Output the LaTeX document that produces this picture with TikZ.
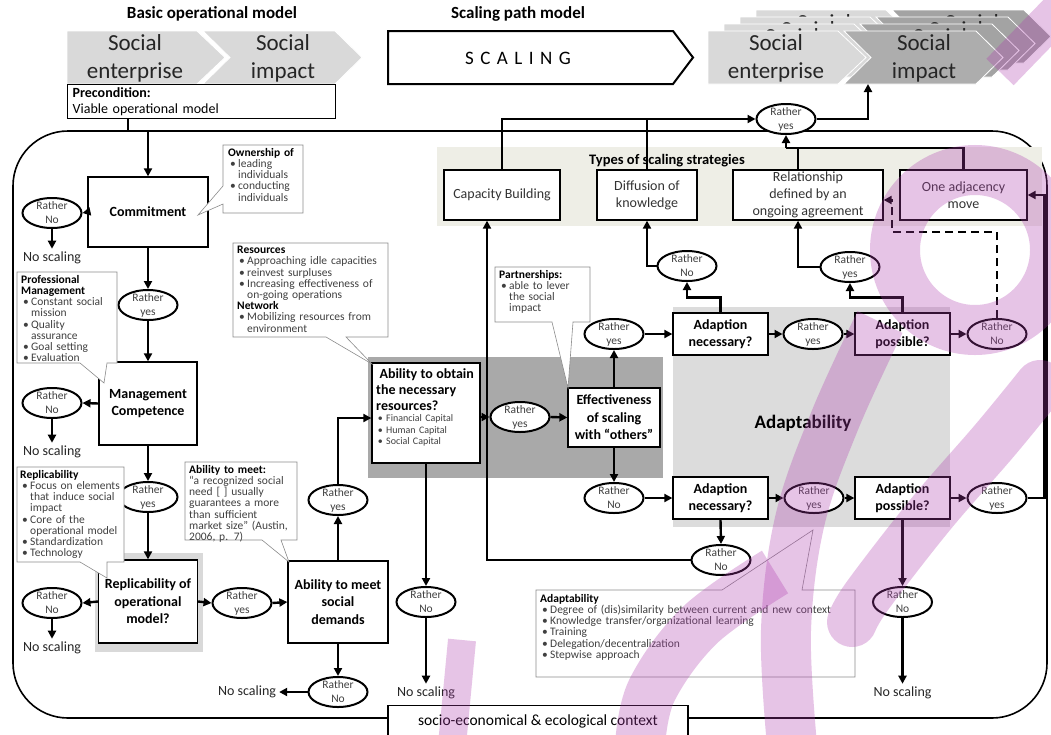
\documentclass[tikz,border=0pt]{standalone}
\usepackage{fontspec}
\setmainfont{Carlito}
\usetikzlibrary{arrows.meta,shapes.geometric}

\definecolor{chlight}{HTML}{D9D9D9}
\definecolor{chdark}{HTML}{ADADAD}
\definecolor{chdarkb}{HTML}{A3A3A3}
\definecolor{bandgray}{HTML}{A9A9A9}
\definecolor{adaptgray}{HTML}{DCDCDC}
\definecolor{stratbg}{HTML}{EEEEE6}
\definecolor{calltext}{HTML}{404040}
\definecolor{wmark}{RGB}{175,60,175}

\newcommand\fsz[2]{\fontsize{#1}{#2}\selectfont}
\newcommand\scalegap{\hspace{6.5pt}}
\newcommand\callbul[1]{\par\hangindent=10pt\hangafter=1\noindent\makebox[10pt][l]{\,\textbullet}#1}
\newcommand\callhead[1]{{\color{black}\bfseries #1}}

% a pair of process chevrons (enterprise -> impact)
\newcommand\chevpair[4]{%
  \begin{scope}[shift={(#2,#3)}]
    \filldraw[fill=chlight, draw=white, line width=0.8pt]
      (0,0) -- (130,0) -- (158,26.5) -- (130,53) -- (0,53) -- cycle;
    \filldraw[fill=#4, draw=white, line width=0.8pt]
      (136,0) -- (268,0) -- (295,26.5) -- (268,53) -- (136,53) -- (163,26.5) -- cycle;
    \node[chevtext] (#1se) at (68,27) {Social\\enterprise};
    \node[chevtext] (#1si) at (216,27) {Social\\impact};
  \end{scope}}

% a stacked copy behind the front pair: only its upper word peeks out
\newcommand\chevback[3]{%
  \begin{scope}[shift={(#2,#3)}]
    \filldraw[fill=chlight, draw=white, line width=0.8pt]
      (0,0) -- (130,0) -- (158,26.5) -- (130,53) -- (0,53) -- cycle;
    \filldraw[fill=chdarkb, draw=white, line width=0.8pt]
      (136,0) -- (268,0) -- (295,26.5) -- (268,53) -- (136,53) -- (163,26.5) -- cycle;
    \node[chevtext] (#1se) at (68,13) {Social};
    \node[chevtext] (#1si) at (216,13) {Social};
  \end{scope}}

% yes/no decision ellipse with its caption
\newcommand\decnode[4]{%
  \node[decision] (#1) at (#2,#3) {};
  \node[elltext] (#1t) at (#1) {Rather\\#4};}

\begin{document}
\begin{tikzpicture}[x=1pt,y=-1pt,
  chevtext/.style={align=center, font=\fsz{23}{28}, text=black!85, inner sep=0pt},
  flowbox/.style={draw, line width=1.3pt, fill=white, align=center, font=\bfseries\fsz{14}{17.5}, inner sep=0pt},
  stratbox/.style={draw, line width=1.3pt, fill=white, align=center, font=\fsz{14}{17}, text=black!80, inner sep=0pt},
  decision/.style={ellipse, draw, line width=2pt, fill=white, minimum width=59pt, minimum height=30pt, inner sep=0pt},
  elltext/.style={align=center, font=\fsz{11.5}{14}, text=calltext, inner sep=0pt},
  conn/.style={line width=2.4pt, -{Triangle[length=8pt,width=8pt]}},
  plainline/.style={line width=2.4pt},
  noscale/.style={font=\fsz{14}{16}, text=black!85, inner sep=3pt},
  callout/.style={fill=white, draw=black!45, line width=0.6pt},
  calltxt/.style={align=left, text width=#1, font=\fsz{11.5}{11.2}, text=calltext, inner sep=0pt, anchor=north west},
  wm/.style={draw=wmark, draw opacity=0.3, line width=50pt}]

\useasboundingbox (0,0) rectangle (1051,734);
\fill[white] (0,0) rectangle (1051,734);

% context frame
\draw[line width=1.6pt, rounded corners=55pt] (13,131) rectangle (1047,718);

% background bands
\fill[stratbg] (437,147) rectangle (1042,226);
\fill[bandgray] (368,357) rectangle (663,478);
\fill[adaptgray] (673,307) rectangle (950,527);
\fill[chlight] (95,553) rectangle (203,652);

% headings
\node[font=\bfseries\fsz{17}{20}] (t1) at (212,14) {Basic operational model};
\node[font=\bfseries\fsz{17}{20}] (t2) at (518,14) {Scaling path model};

% basic operational model
\chevpair{L}{67}{31}{chlight}
\node[draw, line width=1.3pt, fill=white, anchor=north west, minimum width=268pt,
      minimum height=34pt, text width=258pt, align=left, inner xsep=5pt, inner ysep=1pt,
      font=\fsz{14}{16.5}] (pre) at (67,84) {\textbf{Precondition:}\\Viable operational model};

% scaling arrow
\filldraw[fill=white, draw=black, line width=2pt]
  (388,31) -- (673,31) -- (693,57.5) -- (673,84) -- (388,84) -- cycle;
\node[font=\fsz{19}{22}] (scal) at (518,58) {S\scalegap C\scalegap A\scalegap L\scalegap I\scalegap N\scalegap G};

% replicated operational models
\chevback{Rc}{756}{10}
\chevback{Rb}{740}{17}
\chevback{Ra}{724}{24}
\chevpair{R}{708}{31}{chdark}

% strategy band
\node[font=\bfseries\fsz{14.5}{17}] (types) at (667,161) {Types of scaling strategies};
\node[stratbox, minimum width=116pt, minimum height=50pt] (cap) at (502,195) {Capacity Building};
\node[stratbox, minimum width=100pt, minimum height=50pt] (diff) at (647,195) {Diffusion of\\knowledge};
\node[stratbox, minimum width=150pt, minimum height=50pt] (rel) at (808,195) {Relationship\\defined by an\\ongoing agreement};
\node[stratbox, minimum width=127pt, minimum height=50pt] (adj) at (963.5,195) {One adjacency\\move};

% process boxes
\node[flowbox, minimum width=120pt, minimum height=70pt] (commit) at (148,212) {Commitment};
\node[flowbox, minimum width=98pt, minimum height=83pt] (mgmt) at (148,403.5) {Management\\Competence};
\node[flowbox, minimum width=99pt, minimum height=83pt] (repl) at (148,601.5) {Replicability of\\operational\\model?};
\node[flowbox, minimum width=100pt, minimum height=82pt] (meet) at (338,602) {Ability to meet\\social\\demands};
\node[flowbox, minimum width=108pt, minimum height=100pt] (obtain) at (426,413) {};
\node[anchor=north west, align=left, text width=104pt, inner sep=0pt] (obtaintxt) at (376,368)
  {{\bfseries\fsz{14}{16} Ability to obtain\\the necessary\\resources?\par}%
   {\fsz{10}{11.5}\color{calltext}\callbul{Financial Capital}\callbul{Human Capital}\callbul{Social Capital}\par}};
\node[flowbox, minimum width=92pt, minimum height=59pt] (effect) at (614,417.5) {Effectiveness\\of scaling\\with “others”};
\node[font=\bfseries\fsz{19}{21}] (adapt) at (803,423) {Adaptability};
\node[flowbox, minimum width=95pt, minimum height=42pt] (an1) at (720.5,334) {Adaption\\necessary?};
\node[flowbox, minimum width=95pt, minimum height=42pt] (ap1) at (902.5,334) {Adaption\\possible?};
\node[flowbox, minimum width=95pt, minimum height=42pt] (an2) at (720.5,498) {Adaption\\necessary?};
\node[flowbox, minimum width=95pt, minimum height=42pt] (ap2) at (902.5,498) {Adaption\\possible?};

% decisions
\decnode{rn1}{52}{213}{No}
\decnode{ry1}{148}{305}{yes}
\decnode{rn2}{52}{403}{No}
\decnode{ry2}{148}{497}{yes}
\decnode{rn3}{52}{603}{No}
\decnode{ry3}{242}{603}{yes}
\decnode{ry4}{338}{500}{yes}
\decnode{rn4}{338}{692}{No}
\decnode{rn5}{426}{602}{No}
\decnode{ry5}{520}{417}{yes}
\decnode{ry6}{614}{334}{yes}
\decnode{rn6}{614}{498}{No}
\decnode{ry7}{813}{334}{yes}
\decnode{rn7}{997}{334}{No}
\decnode{ry8}{814}{498}{yes}
\decnode{ry9}{997}{498}{yes}
\decnode{rn8}{721}{560}{No}
\decnode{rn9}{902.5}{602}{No}
\decnode{rn10}{687}{266}{No}
\decnode{ry10}{850}{267}{yes}
\decnode{ryTop}{786}{119}{yes}

% outcomes
\node[noscale] (ns1) at (52,258) {No scaling};
\node[noscale] (ns2) at (52,452) {No scaling};
\node[noscale] (ns3) at (52,648) {No scaling};
\node[noscale] (ns4) at (247,692) {No scaling};
\node[noscale] (ns5) at (426,693) {No scaling};
\node[noscale] (ns9) at (902.5,693) {No scaling};
\node[draw, line width=1.3pt, fill=white, minimum width=300pt, minimum height=32pt, anchor=north,
      font=\fsz{15.5}{18}] (ctx) at (538,705) {socio-economical \& ecological context};

\coordinate (preout) at (128,118);
\coordinate (impactin) at (868,84);
\coordinate (j1) at (786,148);

% basic path
\draw[conn] (preout) -- ++(0,13) -| (commit.north);
\draw[conn] (commit.west) -- (rn1.east);
\draw[conn] (rn1.south) -- (ns1.north);
\draw[conn] (commit.south) -- (ry1.north);
\draw[conn] (ry1.south) -- (mgmt.north);
\draw[conn] (mgmt.west) -- (rn2.east);
\draw[conn] (rn2.south) -- (ns2.north);
\draw[conn] (mgmt.south) -- (ry2.north);
\draw[conn] (ry2.south) -- (repl.north);
\draw[conn] (repl.west) -- (rn3.east);
\draw[conn] (rn3.south) -- (ns3.north);
\draw[conn] (repl.east) -- (ry3.west);
\draw[conn] (ry3.east) -- (meet.west);
\draw[conn] (meet.north) -- (ry4.south);
\draw[conn] (ry4.north) |- ([yshift=-5pt]obtain.west);
\draw[conn] (meet.south) -- (rn4.north);
\draw[conn] (rn4.west) -- (ns4.east);
\draw[conn] (obtain.south) -- (rn5.north);
\draw[conn] (rn5.south) -- (ns5.north);
\draw[conn] (obtain.east |- ry5.west) -- (ry5.west);
\draw[conn] (ry5.east) -- (effect.west);

% with others
\draw[conn] (effect.north) -- (ry6.south);
\draw[conn] (ry6.east) -- (an1.west);
\draw[conn] (effect.south) -- (rn6.north);
\draw[conn] (rn6.east) -- (an2.west);
\draw[conn] (an1.east) -- (ry7.west);
\draw[conn] (ry7.east) -- (ap1.west);
\draw[conn] (ap1.east) -- (rn7.west);
\draw[conn] (an2.east) -- (ry8.west);
\draw[conn] (ry8.east) -- (ap2.west);
\draw[conn] (ap2.east) -- (ry9.west);
\draw[conn] (an2.south) -- (rn8.north);
\draw[conn] (ap2.south) -- (rn9.north);
\draw[conn] (rn9.south) -- (ns9.north);
\draw[conn] (rn8.west) -| ([xshift=-15pt]cap.south);
\draw[conn] (an1.north) -- ++(0,-15) -| (rn10.south);
\draw[conn] (rn10.west) -| (diff.south);
\draw[conn] (ap1.north) -- ++(0,-15) -| (ry10.south);
\draw[conn] (ry10.west) -| ([xshift=-10pt]rel.south);
\draw[conn] (ry9.east) -- ++(17,0) |- (adj.east);
\draw[conn, dash pattern=on 8pt off 5pt] (rn7.north) |- (892,232) |- ([yshift=-5pt]rel.east);

% strategies lead to replication
\draw[conn] (cap.north) |- (ryTop.west);
\draw[plainline] (diff.north) -- (diff.north |- ryTop.west);
\draw[conn] (ryTop.east) -| (impactin);
\draw[plainline] (adj.north) |- (j1);
\draw[conn] (j1) -- (ryTop.south);
\draw[plainline] ([xshift=-10pt]rel.north) -- ([xshift=-10pt]rel.north |- j1);

% callouts
\filldraw[callout] (223,145) -- (303,145) -- (303,213) -- (223,213) -- (223,204) -- (198,215) -- (223,186) -- cycle;
\node[calltxt=76pt] (co1) at (228,148)
  {\callhead{Ownership of}\callbul{leading\newline individuals}\callbul{conducting\newline individuals}\par};

\filldraw[callout] (17,272) -- (117,272) -- (117,363) -- (107,363) -- (104,383) -- (80,363) -- (17,363) -- cycle;
\node[calltxt=96pt] (co2) at (21,275)
  {\callhead{Professional\newline Management}\callbul{Constant social\newline mission}\callbul{Quality\newline assurance}\callbul{Goal setting}\callbul{Evaluation}\par};

\filldraw[callout] (17,467) -- (124,467) -- (124,562) -- (107,562) -- (107,578) -- (80,562) -- (17,562) -- cycle;
\node[calltxt=104pt] (co3) at (20,470)
  {\callhead{Replicability}\callbul{Focus on elements\newline that induce social\newline impact}\callbul{Core of the\newline operational model}\callbul{Standardization}\callbul{Technology}\par};

\filldraw[callout] (185,462) -- (297,462) -- (297,540) -- (281,540) -- (289,562) -- (262,540) -- (185,540) -- cycle;
\node[calltxt=108pt] (co4) at (189,465)
  {\callhead{Ability to meet:}\par\noindent “a recognized social\newline need [ ] usually\newline guarantees a more\newline than sufficient\newline market size” (Austin,\newline 2006, p. 7)\par};

\filldraw[callout] (233,243) -- (388,243) -- (388,337) -- (346,337) -- (372,364) -- (326,337) -- (233,337) -- cycle;
\node[calltxt=150pt] (co5) at (237,246)
  {\callhead{Resources}\callbul{Approaching idle capacities}\callbul{reinvest surpluses}\callbul{Increasing  effectiveness of\newline on-going operations}\par\noindent\callhead{Network}\callbul{Mobilizing resources from\newline environment}\par};

\filldraw[callout] (495,267) -- (590,267) -- (590,322) -- (573,322) -- (568,388) -- (552,322) -- (495,322) -- cycle;
\node[calltxt=90pt] (co6) at (499,270)
  {\callhead{Partnerships:}\callbul{able to lever\newline the social\newline impact}\par};

\filldraw[callout] (536,590) -- (722,590) -- (813,530) -- (802,590) -- (855,590) -- (855,677) -- (536,677) -- cycle;
\node[calltxt=314pt] (co7) at (540,594)
  {\callhead{Adaptability}\callbul{Degree of (dis)similarity between current and new context}\callbul{Knowledge transfer/organizational learning}\callbul{Training}\callbul{Delegation/decentralization}\callbul{Stepwise approach}\par};

% translucent logo strokes over the diagram
\draw[wm] (975,250) circle[radius=80];
\draw[wm, line width=38pt] (1000,72) -- (1062,8);
\draw[wm] plot[smooth, tension=0.6] coordinates {(880,322) (835,420) (800,520) (786,630) (792,745)};
\draw[wm, line cap=round] plot[smooth, tension=0.6] coordinates {(1040,385) (995,440) (930,515) (868,595) (852,622)};
\draw[wm] plot[smooth, tension=0.6] coordinates {(775,572) (700,625) (652,690) (640,745)};
\draw[wm, line width=28pt] (462,640) -- (452,745);

\end{tikzpicture}
\end{document}
